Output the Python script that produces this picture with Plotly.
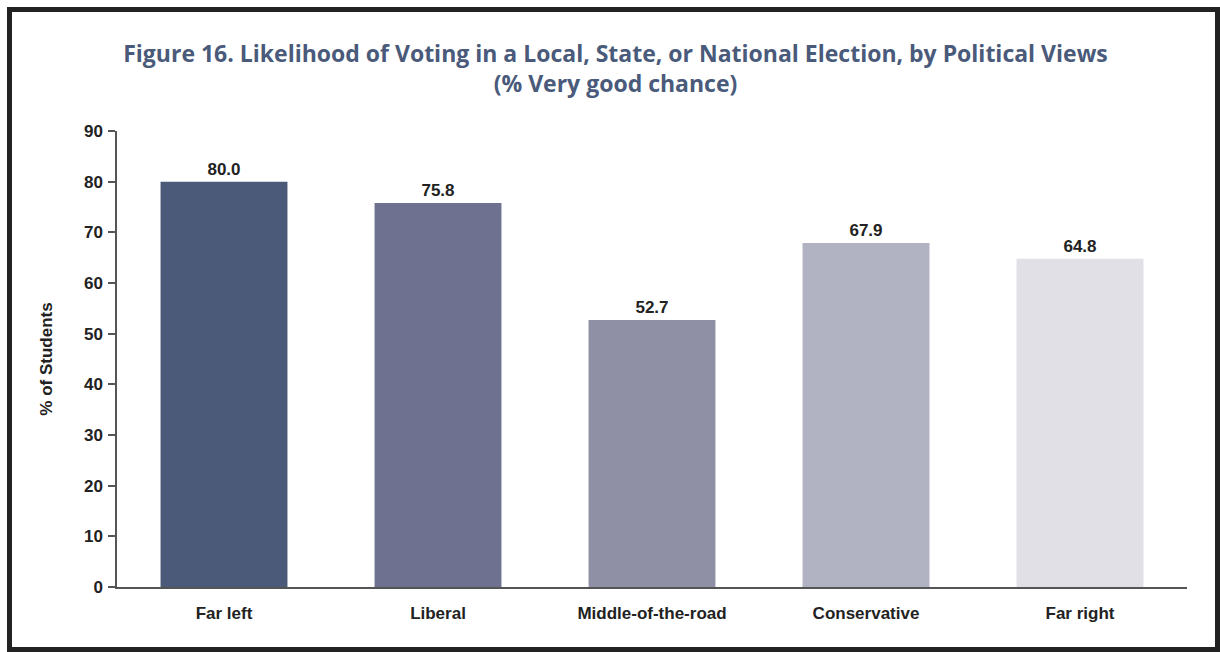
import plotly.graph_objects as go

categories = ["Far left", "Liberal", "Middle-of-the-road", "Conservative", "Far right"]
values = [80.0, 75.8, 52.7, 67.9, 64.8]
value_labels = ["80.0", "75.8", "52.7", "67.9", "64.8"]
bar_colors = ["#4a5a78", "#6e7290", "#8f90a6", "#b1b3c3", "#e0e0e6"]
tick_vals = [0, 10, 20, 30, 40, 50, 60, 70, 80, 90]

W, H = 1220, 652
L, R, T, B = 117, 33, 131, 65
pw, ph = W - L - R, H - T - B

def px2x(px):
    return (px - L) / pw

def py2y(py):
    return (H - B - py) / ph

FONT = "Liberation Sans, Arial"
DARK = "#222222"

fig = go.Figure(go.Bar(
    x=categories, y=values, marker=dict(color=bar_colors, line=dict(width=0)),
    text=value_labels, texttemplate="<b>%{text}</b>", textposition="outside", cliponaxis=False,
    textfont=dict(family=FONT, size=17, color=DARK),
    hoverinfo="skip",
))

fig.update_layout(
    width=W, height=H,
    margin=dict(l=L, r=R, t=T, b=B),
    paper_bgcolor="white", plot_bgcolor="white",
    bargap=0.407,
    showlegend=False,
    title=dict(
        text="<b>Figure 16. Likelihood of Voting in a Local, State, or National Election, by Political Views<br>(% Very good chance)</b>",
        x=px2x(615.5), xanchor="center", xref="paper", y=1 - 62 / H, yanchor="middle",
        font=dict(family="Open Sans", size=23, color="#4a5a7a"),
    ),
    font=dict(family=FONT, size=16, color=DARK),
)

fig.update_xaxes(
    showline=True, linecolor="#555555", linewidth=1.5,
    ticks="", showgrid=False,
    tickvals=categories, ticktext=["<b>%s</b>" % c for c in categories],
    tickfont=dict(family=FONT, size=17, color=DARK),
    ticklabelstandoff=10,
)
fig.update_yaxes(
    range=[0, 90], tickvals=tick_vals, ticktext=["<b>%d</b>" % v for v in tick_vals],
    showgrid=False, zeroline=False,
    showline=True, linecolor="#555555", linewidth=1.5,
    ticks="outside", ticklen=7, tickcolor="#555555", tickwidth=1.5,
    tickfont=dict(family=FONT, size=17, color=DARK),
    ticklabelstandoff=2,
    title=dict(text="<b>% of Students</b>", standoff=27,
               font=dict(family=FONT, size=17, color=DARK)),
)

# Outer frame
fig.add_shape(type="rect", xref="paper", yref="paper",
              x0=px2x(9.5), x1=px2x(1217.5), y0=py2y(649.5), y1=py2y(9.5),
              line=dict(color="#222222", width=5), fillcolor="rgba(0,0,0,0)", layer="above")

fig.write_html("out.html", config={"displayModeBar": False},
               post_script="document.body.style.margin='0';document.body.style.overflow='hidden';")
